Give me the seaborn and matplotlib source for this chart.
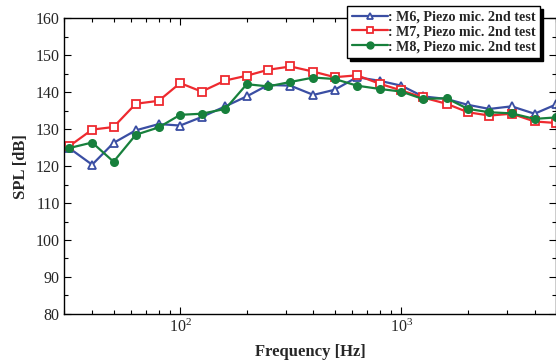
import numpy as np
import pandas as pd
import matplotlib
matplotlib.use('Agg')
import matplotlib.pyplot as plt
import seaborn as sns
from matplotlib.ticker import LogLocator, MultipleLocator, NullFormatter

# 1/3 octave band centre frequencies [Hz]
freq = [31.5, 40, 50, 63, 80, 100, 125, 160, 200, 250, 315, 400,
        500, 630, 800, 1000, 1250, 1600, 2000, 2500, 3150, 4000, 5000]

spl_m6 = [124.9, 120.4, 126.3, 129.7, 131.4, 131.0, 133.3, 136.2, 138.9, 142.0,
          141.8, 139.3, 140.7, 144.1, 143.1, 141.8, 138.9, 138.2, 136.6, 135.5,
          136.2, 134.2, 136.7]
spl_m7 = [125.4, 129.9, 130.6, 136.9, 137.7, 142.5, 140.2, 143.2, 144.5, 146.1,
          147.0, 145.6, 144.1, 144.6, 142.3, 140.5, 138.6, 136.9, 134.6, 133.7,
          134.2, 132.1, 131.7]
spl_m8 = [124.9, 126.4, 121.2, 128.5, 130.5, 133.9, 134.2, 135.5, 142.2, 141.6,
          142.8, 144.0, 143.6, 141.8, 140.9, 140.2, 138.2, 138.4, 135.5, 134.6,
          134.3, 132.8, 133.2]

labels = [': M6, Piezo mic. 2nd test',
          ': M7, Piezo mic. 2nd test',
          ': M8, Piezo mic. 2nd test']

sns.set_style('ticks')
plt.rcParams['font.family'] = ['Liberation Serif', 'DejaVu Serif']
plt.rcParams['mathtext.fontset'] = 'stix'

fig = plt.figure(figsize=(5.56, 3.62), dpi=100)
ax = fig.add_axes([0.116, 0.133, 0.884, 0.816])

series = [
    (spl_m6, '#3a4ea3', '^', 'white'),
    (spl_m7, '#ee2a2f', 's', 'white'),
    (spl_m8, '#17803c', 'o', '#17803c'),
]
for (vals, col, mk, fc), lab in zip(series, labels):
    df = pd.DataFrame({'Frequency': freq, 'SPL': vals})
    sns.lineplot(data=df, x='Frequency', y='SPL', ax=ax, color=col,
                 marker=mk, markersize=5.2, markerfacecolor=fc,
                 markeredgecolor=col, markeredgewidth=1.3,
                 linewidth=1.6, label=lab, clip_on=False)

ax.set_xscale('log')
ax.set_xlim(30, 5000)
ax.set_ylim(80, 160)
ax.yaxis.set_major_locator(MultipleLocator(10))
ax.yaxis.set_minor_locator(MultipleLocator(5))
ax.xaxis.set_major_locator(LogLocator(base=10, numticks=10))
ax.xaxis.set_minor_locator(LogLocator(base=10, subs=np.arange(2, 10), numticks=10))
ax.xaxis.set_minor_formatter(NullFormatter())

ax.tick_params(which='both', direction='in', top=True, right=True,
               labelsize=11.5, color='black', width=0.8)
ax.tick_params(which='major', length=5)
ax.tick_params(which='minor', length=3)
for sp in ax.spines.values():
    sp.set_linewidth(1.0)
    sp.set_color('black')

ax.set_xlabel('Frequency [Hz]', fontsize=12, fontweight='bold', labelpad=6)
ax.set_ylabel('SPL [dB]', fontsize=12, fontweight='bold', labelpad=5)

leg = ax.legend(loc='upper right', bbox_to_anchor=(0.968, 1.043), frameon=True,
                fancybox=False, shadow={'color': 'black', 'alpha': 1.0},
                prop={'weight': 'bold', 'size': 10.2}, handlelength=2.5,
                handletextpad=0.0, labelspacing=0.12, borderpad=0.35,
                borderaxespad=0.0, markerscale=0.9)
leg.get_frame().set_edgecolor('black')
leg.get_frame().set_linewidth(1.0)
leg.set_zorder(10)

fig.savefig('out.png', dpi=100)
